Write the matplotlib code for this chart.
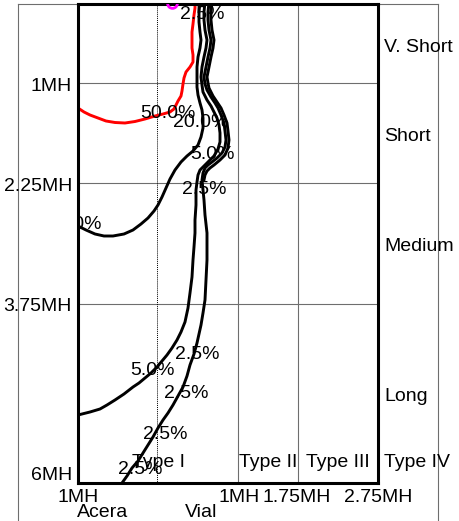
import numpy as np
import matplotlib.pyplot as plt

plt.rcParams['font.family'] = ['Liberation Sans', 'DejaVu Sans']

# chart units follow the picture: x to the right, y downward
# contour lines
red_x = [78, 84, 90, 98, 106, 115, 125, 135, 145, 155, 163, 170, 174, 176, 178, 181,
         182, 183, 184, 186, 190, 193, 193, 192, 192, 192, 193, 194, 195, 195]
red_y = [108, 112, 115, 118, 121, 122.5, 123, 121.5, 119, 116, 114, 112, 109, 105, 101, 96,
         91, 84, 78, 72, 67, 62, 55, 48, 40, 32, 24, 15, 8, 2]

c_x = [200, 199, 199, 200, 201, 200, 198, 197, 197, 197, 198, 200, 202, 203, 203, 201,
       198, 193, 187, 181, 175, 170, 166, 162, 158, 154, 148, 141, 133, 124, 113, 104,
       95, 86, 78]
c_y = [2, 12, 22, 32, 40, 48, 57, 67, 77, 87, 95, 103, 110, 118, 128, 137,
       145, 151, 156, 162, 170, 179, 188, 197, 205, 211, 218, 224, 230, 234, 236, 236,
       234, 230, 226]

a_x = [205, 204, 204, 205, 207, 206, 204, 202, 201, 202, 203, 207, 211, 214, 217, 219,
       220, 220, 218, 214, 209, 204, 200, 198, 197, 196, 196, 195, 195, 194, 193, 192,
       190, 188, 185, 181, 177, 172, 167, 162, 157, 151, 145, 139, 133, 124, 115, 107,
       100, 90, 78]
a_y = [2, 12, 20, 30, 40, 48, 57, 67, 77, 85, 92, 100, 106, 112, 118, 125,
       133, 142, 149, 156, 161, 166, 170, 175, 182, 190, 205, 220, 233, 247, 260, 277,
       293, 308, 322, 332, 340, 348, 355, 361, 367, 373, 378, 383, 387, 394, 400, 405,
       409, 412, 415]

b_x = [209, 208, 208, 209, 211, 210, 208, 206, 204, 205, 207, 211, 215, 218, 221, 224,
       225, 226, 225, 222, 217, 212, 208, 205, 203, 202, 203, 204, 205, 207, 207, 207,
       206, 205, 203, 201, 199, 197, 194, 190, 187, 183, 178, 173, 168, 163, 158, 153,
       148, 143, 138, 132, 127, 122]
b_y = [2, 12, 20, 30, 40, 48, 57, 67, 77, 84, 90, 97, 103, 108, 115, 123,
       131, 140, 147, 153, 158, 162, 165, 168, 173, 180, 190, 200, 215, 233, 247, 260,
       280, 300, 313, 325, 334, 343, 354, 365, 376, 387, 396, 405, 413, 420, 428, 437,
       445, 453, 461, 468, 476, 483]

d_x = [212, 211, 211, 212, 214, 213, 211, 209, 207, 208, 209, 213, 217, 221, 224, 227,
       228, 229, 228, 225, 220, 214, 210, 207, 205, 204]
d_y = [2, 12, 20, 30, 40, 48, 57, 67, 77, 83, 88, 96, 102, 108, 115, 123,
       131, 140, 148, 155, 160, 165, 168, 171, 175, 180]

# contour labels
pct_labels = ['2.5%', '50.0%', '20.0%', '5.0%', '2.5%', '2.5%', '5.0%', '2.5%', '2.5%', '2.5%']
pct_x = [202, 168, 201, 212, 204, 197, 152, 186, 165, 140]
pct_y = [12, 111, 120, 152, 187, 352, 368, 391, 432, 467]

# axis labels
y_labels = ['1MH', '2.25MH', '3.75MH', '6MH']
y_pos = [84, 184, 304, 473]
x_labels = ['1MH', '1MH', '1.75MH', '2.75MH']
x_pos = [78, 239, 297, 378]
cat_labels = ['Acera', 'Vial']
cat_pos = [103, 201]
dur_labels = ['V. Short', 'Short', 'Medium', 'Long', 'Type IV']
dur_pos = [45, 134, 244, 394, 460]
type_labels = ['Type I', 'Type II', 'Type III']
type_pos = [158, 268, 338]

fig = plt.figure(figsize=(4.59, 5.21), dpi=100)
ax = fig.add_axes([78 / 459, 1 - 483 / 521, 300 / 459, 479 / 521])
ax.set_xlim(78, 378)
ax.set_ylim(483, 4)
ax.set_xticks([])
ax.set_yticks([])
for s in ax.spines.values():
    s.set_linewidth(2.2)
    s.set_color('black')
    s.set_zorder(5)

gray = '#6e6e6e'
glw = 0.8
# grid inside the frame
for yy in [83, 183, 304]:
    ax.plot([78, 378], [yy, yy], color=gray, lw=glw, zorder=1)
for xx in [238, 298]:
    ax.plot([xx, xx], [4, 483], color=gray, lw=glw, zorder=1)
ax.plot([157, 157], [4, 483], color='black', lw=0.7, ls=(0, (1, 1)), zorder=1)
# outer box lines
ax.plot([18, 438], [4, 4], color=gray, lw=glw, clip_on=False, zorder=1)
ax.plot([18, 18], [4, 521], color=gray, lw=glw, clip_on=False, zorder=1)
ax.plot([438, 438], [4, 521], color=gray, lw=glw, clip_on=False, zorder=1)

lw = 2.1
ax.plot(red_x, red_y, color='#ff0000', lw=lw, zorder=3, solid_joinstyle='round')
for xs, ys in [(c_x, c_y), (a_x, a_y), (b_x, b_y), (d_x, d_y)]:
    ax.plot(xs, ys, color='black', lw=lw, zorder=3, solid_joinstyle='round')
ax.plot([172], [3.5], marker='o', ms=7, mfc='none', mec='#ff00ff', mew=2, zorder=6)

fs = 14
for t, x, y in zip(pct_labels, pct_x, pct_y):
    ax.text(x, y + 7, t, ha='center', va='baseline', fontsize=fs, zorder=6)
# clipped label at left edge
ax.text(102, 229, '5.0%', ha='right', va='baseline', fontsize=fs, zorder=6, clip_on=True)

for t, y in zip(y_labels, y_pos):
    ax.text(72, y + 7, t, ha='right', va='baseline', fontsize=fs, clip_on=False)
for t, x in zip(x_labels, x_pos):
    ax.text(x, 502, t, ha='center', va='baseline', fontsize=fs, clip_on=False)
for t, x in zip(cat_labels, cat_pos):
    ax.text(x, 517, t, ha='center', va='baseline', fontsize=fs, clip_on=False)
for t, y in zip(dur_labels, dur_pos):
    ax.text(384, y + 7, t, ha='left', va='baseline', fontsize=fs, clip_on=False)
for t, x in zip(type_labels, type_pos):
    ax.text(x, 467, t, ha='center', va='baseline', fontsize=fs, zorder=6)

fig.savefig('out.png', dpi=100)
